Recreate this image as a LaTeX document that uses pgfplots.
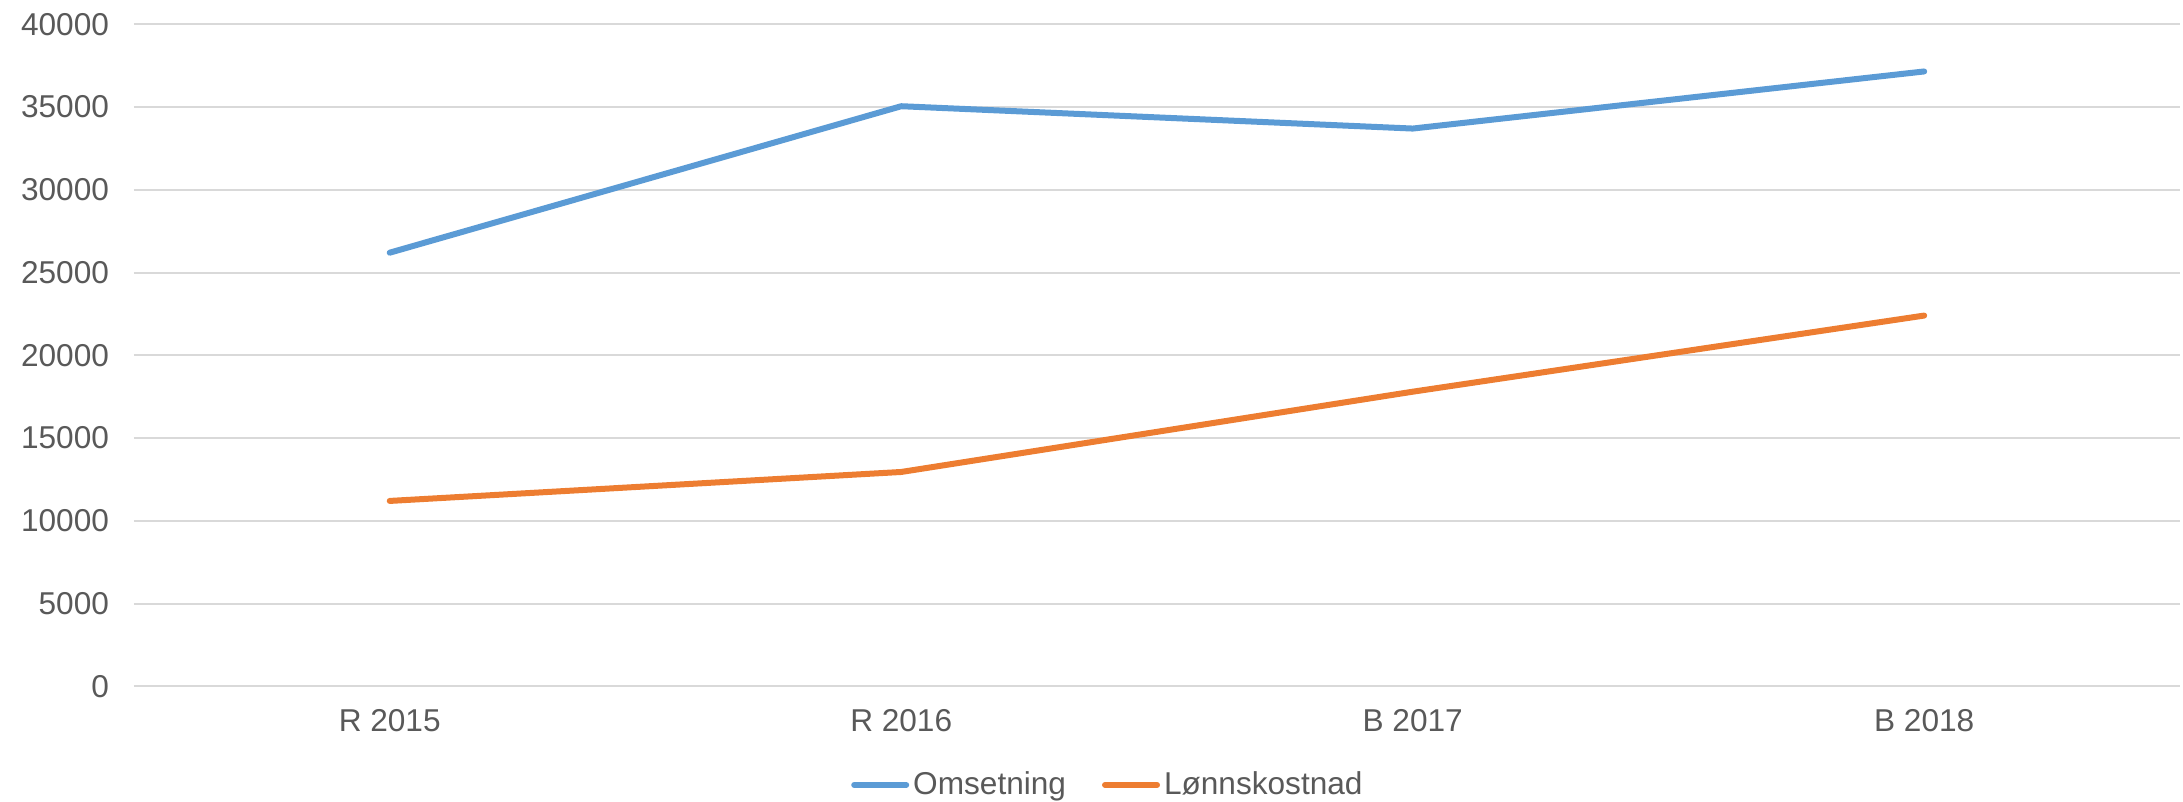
\documentclass[border=0pt]{standalone}
\usepackage{fontspec}
\setmainfont{Liberation Sans}
\usepackage{pgfplots}
\pgfplotsset{compat=1.18}
\definecolor{cblue}{HTML}{5B9BD5}
\definecolor{corange}{HTML}{ED7D31}
\definecolor{cgrid}{HTML}{D9D9D9}
\definecolor{ctext}{HTML}{595959}
\begin{document}
\begin{tikzpicture}[font=\fontsize{15.8}{19}\selectfont]
\useasboundingbox (-67pt,-57.85pt) rectangle (1024.5pt,343.15pt);
\begin{axis}[
  at={(0,0)}, anchor=south west,
  scale only axis, width=1023pt, height=331pt,
  xmin=-0.5, xmax=3.5, ymin=0, ymax=40000,
  axis line style={draw=none},
  ymajorgrids, grid style={cgrid, line width=1pt},
  major tick length=0pt,
  xtick={0,1,2,3},
  xticklabels={R 2015, R 2016, B 2017, B 2018},
  ytick={0,5000,...,40000},
  scaled y ticks=false,
  /pgf/number format/assume math mode=true,
  /pgf/number format/1000 sep={},
  tick label style={text=ctext},
  yticklabel style={xshift=-9pt},
  xticklabel style={yshift=-8pt},
  legend style={at={(0.4765,-0.149)}, anchor=center, draw=none, fill=none,
    text=ctext, legend columns=2,
    /tikz/every even column/.append style={column sep=16pt}},
  legend image code/.code={\draw[#1, line width=3pt, line cap=round] (0pt,0pt) -- (26pt,0pt);},
  every axis plot/.append style={line width=3pt, line cap=round, line join=round},
]
\addplot[cblue] coordinates {(0,26200) (1,35050) (2,33700) (3,37150)};
\addlegendentry{Omsetning}
\addplot[corange] coordinates {(0,11200) (1,12950) (2,17800) (3,22400)};
\addlegendentry{Lønnskostnad}
\end{axis}
\end{tikzpicture}
\end{document}
